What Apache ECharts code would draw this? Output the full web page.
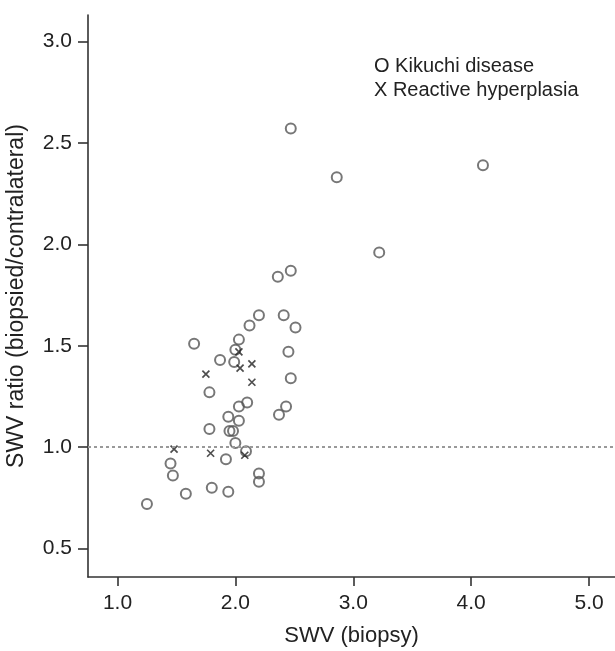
<!DOCTYPE html>
<html>
<head>
<meta charset="utf-8">
<script src="https://cdn.jsdelivr.net/npm/echarts@6/dist/echarts.min.js"></script>
<style>
  html, body { margin: 0; padding: 0; background: #fff; }
  #chart { width: 615px; height: 651px; }
</style>
</head>
<body>
<div id="chart"></div>
<script>
// Kikuchi disease: [SWV (biopsy), SWV ratio]
const kikuchiX = [2.47, 2.86, 4.10, 3.22, 2.36, 2.47, 1.65, 1.87, 1.99, 2.20, 2.41, 2.51, 2.12, 2.03, 2.00, 2.45, 2.47, 1.78, 2.03, 2.10, 2.43, 2.37, 1.94, 2.03, 1.78, 1.95, 1.98, 2.00, 2.09, 1.92, 1.45, 1.47, 1.58, 1.80, 1.94, 2.20, 2.20, 1.25];
const kikuchiY = [2.57, 2.33, 2.39, 1.96, 1.84, 1.87, 1.51, 1.43, 1.42, 1.65, 1.65, 1.59, 1.60, 1.53, 1.48, 1.47, 1.34, 1.27, 1.20, 1.22, 1.20, 1.16, 1.15, 1.13, 1.09, 1.08, 1.08, 1.02, 0.98, 0.94, 0.92, 0.86, 0.77, 0.80, 0.78, 0.87, 0.83, 0.72];
// Reactive hyperplasia
const reactiveX = [1.75, 2.03, 2.04, 2.14, 2.14, 1.48, 1.79, 2.08];
const reactiveY = [1.36, 1.47, 1.39, 1.41, 1.32, 0.99, 0.97, 0.96];

const xTicks = [1, 2, 3, 4, 5];
const yTicks = [0.5, 1.0, 1.5, 2.0, 2.5, 3.0];
const refLine = 1.0;
const seriesNames = ['Kikuchi disease', 'Reactive hyperplasia'];
const legendMarks = ['O', 'X'];

const FONT = "'Liberation Sans', Arial, Helvetica, sans-serif";
const zip = (xs, ys) => xs.map((x, i) => [x, ys[i]]);

const chart = echarts.init(document.getElementById('chart'), null, { renderer: 'canvas' });
chart.setOption({
  backgroundColor: '#ffffff',
  animation: false,
  grid: { left: 88, top: 15, right: 0, bottom: 74, containLabel: false, outerBoundsMode: 'none' },
  legend: {
    orient: 'vertical',
    left: 364,
    top: 51,
    icon: 'none',
    itemWidth: 0,
    itemHeight: 12,
    itemGap: 4,
    data: seriesNames,
    formatter: name => legendMarks[seriesNames.indexOf(name)] + ' ' + name,
    textStyle: { fontFamily: FONT, fontSize: 20, color: '#222' }
  },
  xAxis: {
    type: 'value',
    min: 0.75,
    max: 5.22,
    name: 'SWV (biopsy)',
    nameLocation: 'middle',
    nameGap: 48,
    nameTextStyle: { fontFamily: FONT, fontSize: 22, color: '#222' },
    axisLine: { show: true, onZero: false, lineStyle: { color: '#333', width: 1.6 } },
    axisTick: { show: true, length: 9, customValues: xTicks, lineStyle: { color: '#333', width: 1.6 } },
    axisLabel: { customValues: xTicks, margin: 16, formatter: v => v.toFixed(1), fontFamily: FONT, fontSize: 21, color: '#222' },
    splitLine: { show: false }
  },
  yAxis: {
    type: 'value',
    min: 0.36,
    max: 3.13,
    name: 'SWV ratio (biopsied/contralateral)',
    nameLocation: 'middle',
    nameGap: 60,
    nameRotate: 90,
    nameTextStyle: { fontFamily: FONT, fontSize: 23, color: '#222' },
    axisLine: { show: true, onZero: false, lineStyle: { color: '#333', width: 1.6 } },
    axisTick: { show: true, length: 10, customValues: yTicks, lineStyle: { color: '#333', width: 1.6 } },
    axisLabel: { customValues: yTicks, margin: 16, formatter: v => v.toFixed(1), fontFamily: FONT, fontSize: 21, color: '#222' },
    splitLine: { show: false }
  },
  series: [
    {
      name: seriesNames[0],
      type: 'scatter',
      symbol: 'circle',
      symbolSize: 10,
      itemStyle: { color: 'rgba(0,0,0,0)', borderColor: '#555', borderWidth: 2 },
      data: zip(kikuchiX, kikuchiY),
      markLine: {
        silent: true,
        symbol: ['none', 'none'],
        label: { show: false },
        lineStyle: { color: '#999', width: 2, type: [3, 3] },
        data: [{ yAxis: refLine }]
      },
      z: 3
    },
    {
      name: seriesNames[1],
      type: 'scatter',
      symbol: 'path://M0,0L10,10M10,0L0,10',
      symbolSize: 7,
      itemStyle: { color: 'rgba(0,0,0,0)', borderColor: '#222', borderWidth: 1.7 },
      data: zip(reactiveX, reactiveY),
      z: 4
    }
  ]
});
</script>
</body>
</html>
